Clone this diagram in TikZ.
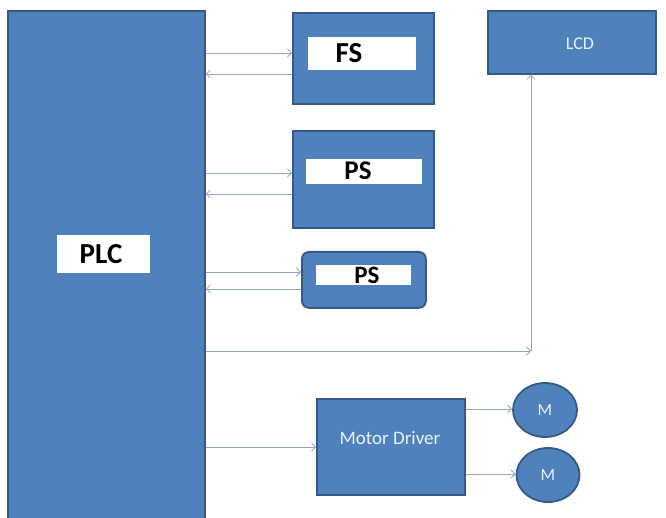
\documentclass[tikz,border=0pt]{standalone}
\usepackage{fontspec}
\setmainfont{Carlito}
\usetikzlibrary{arrows.meta,shapes.geometric}
\definecolor{boxfill}{HTML}{4F81BD}
\definecolor{boxline}{HTML}{355884}
\definecolor{arrline}{HTML}{8EA6C6}
\definecolor{lighttext}{HTML}{E8F2FA}
\tikzset{
  blk/.style={draw=boxline, fill=boxfill, line width=1.8pt, inner sep=0pt, anchor=north west},
  lbl/.style={fill=white, inner sep=0pt, anchor=north west, text=black},
  arr/.style={draw=arrline, line width=0.8pt, -{Straight Barb[length=4pt,width=8pt]}},
  motor/.style={ellipse, draw=boxline, fill=boxfill, line width=1.8pt, inner sep=0pt, text=lighttext, font=\fontsize{17}{17}\selectfont},
}
\begin{document}
\begin{tikzpicture}[x=1pt,y=-1pt]
\useasboundingbox (0,0) rectangle (666,518);
% PLC
\node[blk, minimum width=197pt, minimum height=508pt] (plc) at (7,10) {};
\node[lbl, minimum width=93pt, minimum height=38pt] (plcl) at (57,235) {};
\node[font=\fontsize{29}{29}\selectfont\bfseries] (plct) at (101,254) {PLC};
% FS
\node[blk, minimum width=141pt, minimum height=91pt] (fs) at (292,12) {};
\node[lbl, minimum width=108pt, minimum height=33pt] (fsl) at (308,37) {};
\node[font=\fontsize{29}{29}\selectfont\bfseries] (fst) at (349,53) {FS};
% PS 1
\node[blk, minimum width=141pt, minimum height=97pt] (ps1) at (292,130) {};
\node[lbl, minimum width=116pt, minimum height=25pt] (ps1l) at (306,159) {};
\node[font=\fontsize{27}{27}\selectfont\bfseries] (ps1t) at (358,171) {PS};
% PS 2
\node[blk, rounded corners=7pt, minimum width=124pt, minimum height=56pt] (ps2) at (301,251) {};
\node[lbl, minimum width=95pt, minimum height=20pt] (ps2l) at (316,265) {};
\node[font=\fontsize{25}{25}\selectfont\bfseries] (ps2t) at (367,275) {PS};
% LCD
\node[blk, minimum width=168pt, minimum height=63pt] (lcd) at (487,10) {};
\node[text=lighttext, font=\fontsize{18}{18}\selectfont] (lcdt) at (580,44) {LCD};
% Motor driver
\node[blk, minimum width=148pt, minimum height=96pt] (md) at (316,398) {};
\node[text=lighttext, font=\fontsize{19}{19}\selectfont] (mdt) at (390,438) {Motor Driver};
% Motors
\node[motor, minimum width=64pt, minimum height=54pt] (m1) at (545,410) {M};
\node[motor, minimum width=63pt, minimum height=54pt] (m2) at (548,475) {M};
% connectors
\draw[arr] (plc.east |- 0,53) -- (fs.west |- 0,53);
\draw[arr] (fs.west |- 0,74) -- (plc.east |- 0,74);
\draw[arr] (plc.east |- 0,173) -- (ps1.west |- 0,173);
\draw[arr] (ps1.west |- 0,194) -- (plc.east |- 0,194);
\draw[arr] (plc.east |- 0,272) -- (ps2.west |- 0,272);
\draw[arr] (ps2.west |- 0,289) -- (plc.east |- 0,289);
\coordinate (corner) at (531,351);
\draw[arr] (plc.east |- corner) -- (corner);
\draw[arr] (corner) -- (corner |- lcd.south);
\draw[arr] (plc.east |- 0,447) -- (md.west |- 0,447);
\draw[arr] (md.east |- 0,409) -- (m1.west |- 0,409);
\draw[arr] (md.east |- 0,474) -- (m2.west |- 0,474);
\end{tikzpicture}
\end{document}
